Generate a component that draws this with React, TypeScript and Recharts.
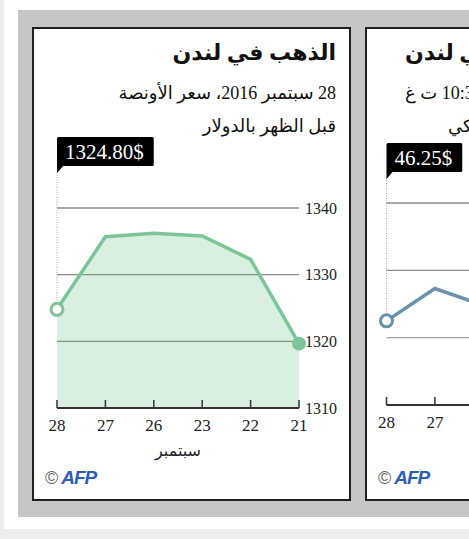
import React from 'react';
import { AreaChart, Area, XAxis, YAxis, CartesianGrid } from 'recharts';

// September days, shown newest first
const days = ['28', '27', '26', '23', '22', '21'];
const goldPrices = [1324.8, 1335.7, 1336.2, 1335.8, 1332.3, 1319.65];
const goldTicks = [1310, 1320, 1330, 1340];
const oilPrices = [46.25, 46.73, 46.48, 46.9, 47.2, 46.8];
const oilTicks = [45, 46, 47, 48];

const SERIF = "'Liberation Serif', 'DejaVu Serif', serif";
const ARABIC = "'Liberation Serif', 'DejaVu Sans', sans-serif";

const DayTick = (props: any) => {
  const { x, y, payload } = props;
  return (
    <g>
      <line x1={x} x2={x} y1={y - 8} y2={y} stroke="#333" strokeWidth={1.5} />
      <text x={x} y={y + 23} textAnchor="middle" fontSize={17} fill="#222" fontFamily={SERIF}>
        {payload.value}
      </text>
    </g>
  );
};

type PanelProps = {
  left: number;
  values: number[];
  ticks: number[];
  label: string;
  color: string;
  fill: string;
  chartTop: number; // page y of chart svg
  plotTop: number; // page y of top gridline
  plotH: number;
  plotLeft: number; // page x of first category
  boxTop: number; // page y of value box
  header: React.ReactNode;
};

function Panel(p: PanelProps) {
  const rows = days.map((d, i) => ({ day: d, price: p.values[i] }));
  const originX = p.left + 2;
  const originY = 29;
  const marginTop = p.plotTop - p.chartTop;
  const marginLeft = p.plotLeft - originX;
  const plotW = 242;
  const yW = 48;
  const xH = 34;
  const last = rows.length - 1;
  const bt = p.boxTop - p.chartTop;

  const renderDot = (props: any) => {
    const { cx, cy, index } = props;
    if (index === 0) {
      let em = 0;
      for (const ch of p.label) em += ch === '.' ? 0.25 : 0.5;
      const w = em * 21 + 18;
      const bh = 29;
      return (
        <g key={`dot-${index}`}>
          <line x1={cx} x2={cx} y1={bt + bh + 6} y2={cy - 7} stroke="#aaa" strokeWidth={1} strokeDasharray="1 1.5" />
          <rect x={cx} y={bt} width={w} height={bh} rx={1.5} fill="#000" />
          <path d={`M${cx},${bt + bh - 1} L${cx},${bt + bh + 7} L${cx + 7},${bt + bh - 1} Z`} fill="#000" />
          <text x={cx + 8} y={bt + 22} fill="#fff" fontSize={21} fontFamily={SERIF}>
            {p.label}
          </text>
          <circle cx={cx} cy={cy} r={6} fill="#fff" stroke={p.color} strokeWidth={3} />
        </g>
      );
    }
    if (index === last) {
      return <circle key={`dot-${index}`} cx={cx} cy={cy} r={7} fill={p.color} />;
    }
    return <g key={`dot-${index}`} />;
  };

  return (
    <div
      style={{
        position: 'absolute',
        left: p.left,
        top: 27,
        width: 319,
        height: 474,
        boxSizing: 'border-box',
        border: '2px solid #231f20',
        background: '#fff',
      }}
    >
      {p.header}
      <div style={{ position: 'absolute', left: 0, top: p.chartTop - originY }}>
        <AreaChart
          width={marginLeft + plotW + yW}
          height={marginTop + p.plotH + xH}
          data={rows}
          margin={{ top: marginTop, left: marginLeft, right: 0, bottom: 0 }}
        >
          <CartesianGrid vertical={false} stroke="#8c8c8c" strokeWidth={1.3} />
          <XAxis
            dataKey="day"
            scale="point"
            padding={{ left: 0, right: 0 }}
            height={xH}
            tickSize={0}
            tickMargin={0}
            tickLine={false}
            axisLine={{ stroke: '#333', strokeWidth: 2 }}
            tick={<DayTick />}
            interval={0}
          />
          <YAxis
            orientation="right"
            width={yW}
            domain={[p.ticks[0], p.ticks[p.ticks.length - 1]]}
            ticks={p.ticks}
            tickLine={false}
            axisLine={false}
            tickSize={0}
            tickMargin={6}
            tick={{ fontSize: 16, fill: '#222', fontFamily: SERIF, textAnchor: 'start' }}
          />
          <Area
            type="linear"
            dataKey="price"
            stroke={p.color}
            strokeWidth={3.5}
            fill={p.fill}
            fillOpacity={0.2}
            dot={renderDot}
            activeDot={false}
            isAnimationActive={false}
          />
        </AreaChart>
      </div>
      <div
        style={{
          position: 'absolute',
          left: p.plotLeft - originX + plotW / 2 - 60,
          width: 120,
          top: 412,
          textAlign: 'center',
          fontSize: 16,
          fontFamily: ARABIC,
          direction: 'rtl',
          color: '#222',
        }}
      >
        سبتمبر
      </div>
      <div
        style={{
          position: 'absolute',
          left: 11,
          top: 438,
          whiteSpace: 'nowrap',
          fontFamily: "'Liberation Sans', Arial, sans-serif",
        }}
      >
        <span style={{ fontSize: 18, color: '#666' }}>©</span>
        <span
          style={{
            fontSize: 19,
            fontWeight: 900,
            fontStyle: 'italic',
            color: '#2d5fb8',
            marginLeft: 3,
            letterSpacing: -1,
          }}
        >
          AFP
        </span>
      </div>
    </div>
  );
}

const titleStyle: React.CSSProperties = {
  position: 'absolute',
  top: 9,
  fontSize: 22,
  fontWeight: 700,
  lineHeight: '30px',
  fontFamily: ARABIC,
  direction: 'rtl',
  whiteSpace: 'nowrap',
  color: '#111',
};
const subStyle: React.CSSProperties = {
  position: 'absolute',
  fontSize: 18,
  lineHeight: '24px',
  fontFamily: ARABIC,
  direction: 'rtl',
  whiteSpace: 'nowrap',
  color: '#111',
};

export default function App() {
  return (
    <div
      style={{
        position: 'fixed',
        left: 0,
        top: 0,
        width: 469,
        height: 539,
        overflow: 'hidden',
        background: '#ededed',
      }}
    >
      <div style={{ position: 'absolute', left: 4, top: 0, width: 465, height: 529, background: '#fff' }} />
      <div style={{ position: 'absolute', left: 18, top: 10, width: 451, height: 507, background: '#c5c6c8' }} />
      <Panel
        left={32}
        values={goldPrices}
        ticks={goldTicks}
        label="1324.80$"
        color="#7cc59a"
        fill="#3fb160"
        chartTop={130}
        plotTop={208}
        plotH={200}
        plotLeft={57}
        boxTop={137}
        header={
          <>
            <div style={{ ...titleStyle, right: 13 }}>الذهب في لندن</div>
            <div style={{ ...subStyle, right: 13, top: 52 }}>28 سبتمبر 2016، سعر الأونصة</div>
            <div style={{ ...subStyle, right: 13, top: 85 }}>قبل الظهر بالدولار</div>
          </>
        }
      />
      <Panel
        left={365}
        values={oilPrices}
        ticks={oilTicks}
        label="46.25$"
        color="#6b93ad"
        fill="#ffffff"
        chartTop={125}
        plotTop={203}
        plotH={202}
        plotLeft={386.5}
        boxTop={143}
        header={
          <>
            <div style={{ ...titleStyle, left: 38 }}>النفط في لندن</div>
            <div style={{ ...subStyle, left: 38, top: 52 }}>28 سبتمبر 2016، 10:30 ت غ</div>
            <div style={{ ...subStyle, left: 81, top: 85 }}>سعر البرميل بالدولار الأمريكي</div>
          </>
        }
      />
    </div>
  );
}
